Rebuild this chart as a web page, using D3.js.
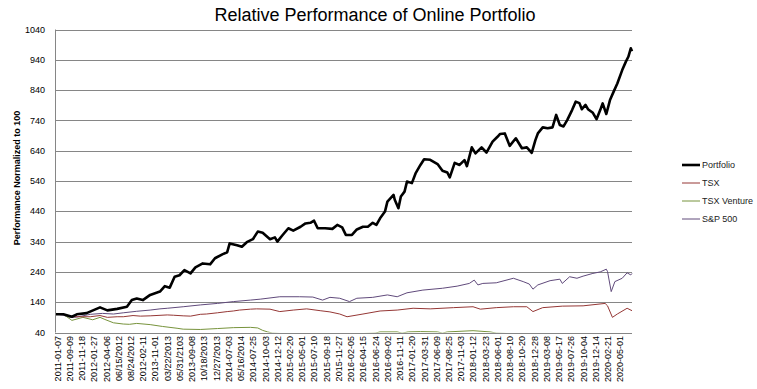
<!DOCTYPE html>
<html>
<head>
<meta charset="utf-8">
<script src="https://cdn.jsdelivr.net/npm/d3@7"></script>
<style>
  body { margin: 0; background: #fff; }
  text { font-family: "Liberation Sans", Arial, sans-serif; }
</style>
</head>
<body>
<svg width="757" height="389"></svg>
<script>
// category labels, one every 10 weeks
var tickLabels = ["2011-01-07","2011-09-09","2011-11-18","2012-01-27","2012-04-06","06/15/2012",
  "08/24/2012","2012-02-11","2013-11-01","03/22/2013","05/31/2103","2013-09-08","10/18/2013",
  "12/27/2013","2014-07-03","05/16/2014","2014-07-25","2014-10-03","2014-12-12","2015-02-20",
  "2015-05-01","2015-07-10","2015-09-18","2015-11-27","2016-02-05","2016-04-15","2016-06-24",
  "2016-09-02","2016-11-11","2017-01-20","2017-03-31","2017-06-09","2017-08-25","2017-11-03",
  "2018-01-12","2018-03-23","2018-06-01","2018-08-10","2018-10-20","2018-12-28","2019-03-08",
  "2019-05-17","2019-07-26","2019-10-04","2019-12-14","2020-02-21","2020-05-01"];
var yTicks = [40,140,240,340,440,540,640,740,840,940,1040];
var lastWeek = 471;

// series: [week index, value normalized to 100]
var portfolio = [[0,100],[6,100],[13,92],[17,100],[25,104],[36,123],[42,113],[50,118],[58,125],[62,147],
  [66,152],[71,147],[77,164],[85,175],[89,193],[93,188],[97,224],[101,229],[105,246],[110,235],
  [114,255],[120,268],[126,265],[130,285],[136,298],[140,305],[142,334],[148,328],[152,323],[156,338],
  [161,348],[165,373],[169,369],[175,348],[179,354],[181,340],[185,360],[190,384],[194,376],[200,389],
  [204,400],[208,402],[211,409],[214,384],[220,384],[226,382],[230,395],[234,387],[237,362],[242,362],
  [246,380],[251,389],[255,389],[259,402],[262,395],[265,417],[269,439],[271,472],[276,494],[277,478],
  [280,450],[282,489],[285,505],[287,538],[291,533],[294,565],[298,593],[301,612],[306,610],[312,596],
  [316,574],[320,568],[322,552],[326,600],[330,593],[334,609],[336,589],[340,651],[343,631],[348,651],
  [352,634],[357,670],[361,686],[363,695],[367,697],[371,656],[376,681],[381,648],[385,651],[389,633],
  [392,675],[394,697],[398,717],[402,714],[406,717],[409,758],[412,725],[415,720],[418,741],[422,774],
  [425,802],[428,797],[430,777],[433,791],[435,777],[439,765],[442,744],[445,774],[447,796],[450,761],
  [453,807],[456,835],[459,862],[463,906],[466,934],[468,950],[470,978],[471,968]];
var tsx = [[0,101],[6,100],[14,92],[22,92],[28,92],[36,96],[42,90],[50,92],[55,92],[63,96],[69,94],
  [77,95],[91,98],[96,97],[104,95],[110,94],[118,100],[123,101],[132,105],[140,109],[145,111],[150,114],
  [159,117],[164,118],[175,117],[183,109],[194,114],[205,118],[216,112],[224,108],[232,101],[238,92],
  [251,101],[265,111],[279,114],[292,120],[306,118],[325,122],[341,125],[347,117],[360,122],[374,125],
  [385,125],[390,109],[398,122],[414,127],[431,128],[449,136],[451,128],[455,90],[459,101],[467,120],[471,112]];
var tsxVenture = [[0,103],[6,100],[13,80],[22,90],[30,82],[36,90],[40,83],[47,72],[55,68],[60,67],
  [66,70],[77,66],[87,60],[99,54],[104,51],[118,50],[132,53],[145,56],[159,57],[165,55],[169,47],
  [173,42],[177,38],[191,35],[216,34],[240,35],[261,38],[265,42],[279,42],[283,38],[288,42],[298,43],
  [312,42],[316,38],[320,42],[341,46],[355,42],[360,38],[379,35],[412,33],[445,31],[471,32]];
var sp500 = [[0,101],[6,97],[11,90],[17,91],[28,100],[38,103],[47,101],[55,105],[66,110],[77,114],
  [85,118],[91,120],[104,125],[118,131],[132,136],[145,142],[159,147],[167,150],[183,158],[199,158],
  [210,157],[218,147],[224,156],[232,153],[240,142],[246,153],[259,156],[271,164],[279,158],[287,171],
  [300,180],[316,186],[328,193],[338,202],[342,213],[345,197],[349,202],[360,204],[374,219],[382,208],
  [387,200],[390,183],[394,197],[404,211],[412,216],[414,202],[420,224],[426,219],[431,226],[439,235],
  [445,240],[450,249],[451,241],[454,175],[457,208],[463,219],[467,237],[470,230],[471,235]];

var seriesNames = ["Portfolio","TSX","TSX Venture","S&P 500"];
var seriesData = [portfolio, tsx, tsxVenture, sp500];
var colors = ["#000000","#953735","#77933c","#604a7b"];
var widths = [2.6,1,1,1];

var svg = d3.select("svg");
var plotL = 55, plotR = 632, plotT = 29.5, plotB = 332.5;

var x = d3.scaleLinear().domain([0, lastWeek]).range([56, plotR]);
var y = d3.scaleLinear().domain([40, 1040]).range([plotB, plotT]);

svg.append("rect").attr("width",757).attr("height",389).attr("fill","#fff");

svg.append("defs").append("clipPath").attr("id","plot")
  .append("rect").attr("x",plotL).attr("y",plotT-3).attr("width",plotR-plotL+3).attr("height",plotB-plotT+3);

// gridlines
svg.append("g").selectAll("line")
  .data(yTicks.slice(1))
  .enter().append("line")
  .attr("x1",plotL).attr("x2",plotR)
  .attr("y1",function(d){ return Math.round(y(d))+0.5; })
  .attr("y2",function(d){ return Math.round(y(d))+0.5; })
  .attr("stroke","#868686").attr("stroke-width",1);

// axes lines
svg.append("line").attr("x1",plotL+0.5).attr("x2",plotL+0.5).attr("y1",plotT).attr("y2",plotB)
  .attr("stroke","#868686");
svg.append("line").attr("x1",plotL).attr("x2",plotR).attr("y1",Math.round(y(40))+0.5).attr("y2",Math.round(y(40))+0.5)
  .attr("stroke","#868686");

// y tick labels
svg.append("g").selectAll("text")
  .data(yTicks)
  .enter().append("text")
  .attr("x",45).attr("y",function(d){ return y(d); })
  .attr("dy","0.35em")
  .attr("text-anchor","end")
  .attr("font-size",9)
  .attr("fill","#000")
  .text(function(d){ return d; });

// x tick labels
svg.append("g").selectAll("text")
  .data(tickLabels)
  .enter().append("text")
  .attr("transform",function(d,i){ return "translate(" + (x(i*10)+1.5) + ",336) rotate(-90)"; })
  .attr("dy","0.35em")
  .attr("text-anchor","end")
  .attr("font-size",9)
  .attr("fill","#000")
  .text(function(d){ return d; });

var line = d3.line()
  .x(function(d){ return x(d[0]); })
  .y(function(d){ return y(d[1]); });

// draw back to front so portfolio sits on top
var lines = svg.append("g").attr("clip-path","url(#plot)");
[3,2,1,0].forEach(function(i){
  lines.append("path")
    .datum(seriesData[i])
    .attr("fill","none")
    .attr("stroke",colors[i])
    .attr("stroke-width",widths[i])
    .attr("stroke-linejoin","round")
    .attr("d",line);
});

// title
svg.append("text")
  .attr("x",375).attr("y",21)
  .attr("text-anchor","middle")
  .attr("font-size",18)
  .text("Relative Performance of Online Portfolio");

// y axis title
svg.append("text")
  .attr("transform","translate(17,178) rotate(-90)")
  .attr("dy","0.35em")
  .attr("text-anchor","middle")
  .attr("font-size",9)
  .attr("font-weight","bold")
  .text("Performance Normalized to 100");

// legend
var legend = svg.append("g").selectAll("g")
  .data(seriesNames)
  .enter().append("g")
  .attr("transform",function(d,i){ return "translate(682," + (165 + i*18) + ")"; });
legend.append("line")
  .attr("x1",0).attr("x2",18).attr("y1",0).attr("y2",0)
  .attr("stroke",function(d,i){ return colors[i]; })
  .attr("stroke-width",function(d,i){ return widths[i]; });
legend.append("text")
  .attr("x",20).attr("dy","0.35em")
  .attr("font-size",9)
  .attr("fill","#222")
  .text(function(d){ return d; });
</script>
</body>
</html>
